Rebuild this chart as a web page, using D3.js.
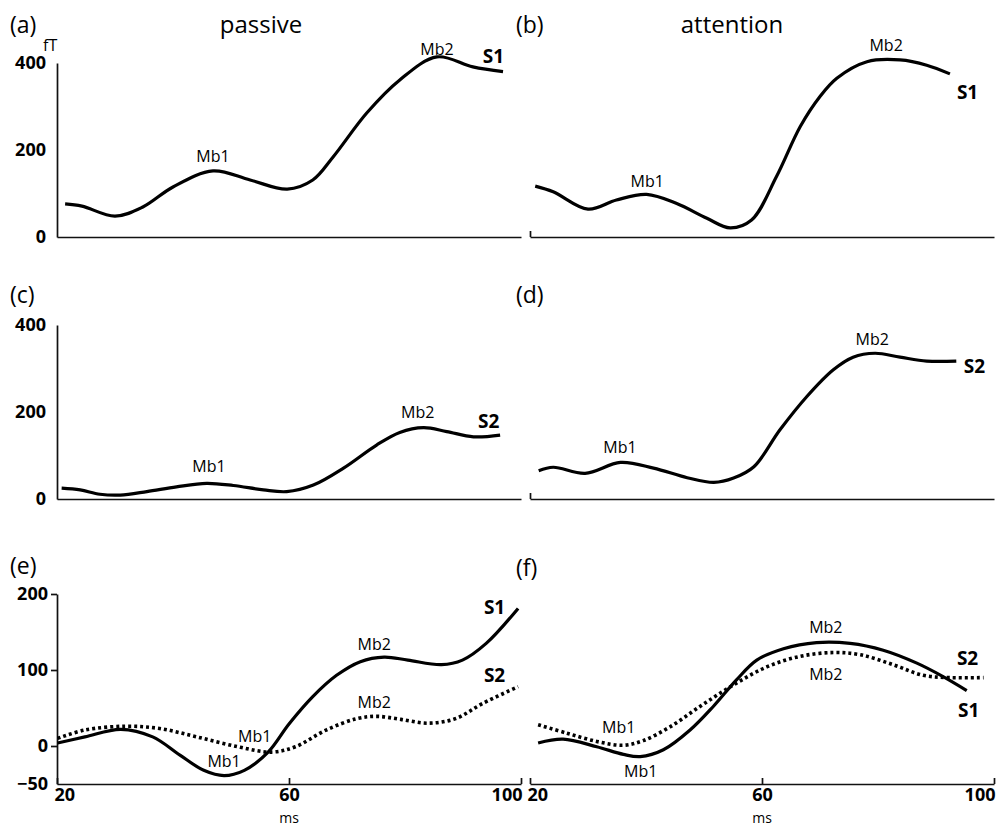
<!DOCTYPE html>
<html>
<head>
<meta charset="utf-8">
<script src="https://cdn.jsdelivr.net/npm/d3@7"></script>
<style>
  body { margin: 0; background: #fff; }
  text { font-family: "Open Sans", "Noto Sans", sans-serif; fill: #000; }
</style>
</head>
<body>
<script>
// (a) passive, S1
var msA  = [21.4, 24.3, 30.0, 34.8, 40.0, 46.9, 53.3, 59.7, 64.1, 67.6, 73.4, 79.1, 85.5, 91.7, 96.9];
var aS1  = [76, 71, 48, 69, 115, 152, 131, 110, 131, 184, 285, 361, 414, 391, 380];

// (b) attention, S1
var msB  = [20.9, 24.0, 30.0, 34.9, 40.1, 45.3, 50.5, 54.5, 58.2, 62.5, 66.6, 70.0, 72.9, 78.1, 83.8, 88.4, 92.4];
var bS1  = [117, 104, 64, 85, 98, 77, 43, 21, 39, 139, 254, 323, 365, 403, 407, 395, 375];

// (c) passive, S2
var msC  = [20.8, 24.0, 27.4, 30.9, 35.5, 40.6, 45.8, 50.4, 55.6, 59.6, 64.2, 69.4, 75.1, 79.1, 83.2, 87.2, 91.8, 96.4];
var cS2  = [25, 21, 11, 9, 17, 28, 36, 31, 21, 17, 32, 71, 124, 153, 164, 155, 143, 147];

// (d) attention, S2
var msD  = [21.5, 24.0, 29.5, 35.6, 41.3, 47.1, 51.7, 55.1, 58.6, 63.1, 67.7, 72.3, 75.7, 79.5, 83.8, 88.4, 93.5];
var dS2  = [65, 73, 59, 84, 71, 49, 38, 48, 74, 159, 235, 297, 326, 335, 326, 317, 317];

// (e) S1 solid, S2 dotted
var msE1 = [20.1, 24.8, 31.0, 36.5, 41.2, 45.3, 48.8, 52.3, 56.4, 60.0, 64.1, 68.2, 72.3, 76.4, 80.5, 86.3, 89.9, 94.0, 99.5];
var eS1  = [4, 12, 22, 12, -12, -32, -39, -32, -8, 29, 65, 93, 111, 117, 113, 107, 113, 135, 181];
var msE2 = [20.1, 24.8, 31.8, 37.7, 44.1, 51.2, 57.0, 61.1, 66.4, 71.7, 75.2, 79.3, 84.0, 88.7, 93.4, 99.5];
var eS2  = [10, 21, 26, 23, 12, -1, -8, -1, 21, 36, 39, 35, 30, 36, 56, 78];

// (f) S1 solid, S2 dotted
var msF1 = [21.4, 25.7, 31.5, 36.1, 39.0, 43.0, 47.6, 51.6, 55.6, 59.1, 63.7, 69.4, 75.2, 80.9, 86.7, 91.3, 95.3];
var fS1  = [4, 9, -1, -11, -14, -5, 21, 52, 87, 113, 128, 136, 135, 126, 109, 91, 73];
var msF2 = [21.4, 26.3, 31.5, 36.1, 39.5, 44.1, 49.3, 55.0, 60.8, 66.6, 72.3, 77.0, 82.6, 87.8, 92.4, 98.2];
var fS2  = [28, 17, 6, 1, 7, 25, 52, 80, 104, 118, 123, 120, 107, 93, 90, 90];

// tick labels
var yTicksTop = [0, 200, 400];
var yTicksBottom = [-50, 0, 100, 200];
var xTicks = [20, 60, 100];

// peak / series annotations: [text, ms, value, bold]
var notesA = [["Mb1", 46.9, 172, 0], ["Mb2", 85.5, 418, 0], ["S1", 93.4, 399, 1]];
var notesB = [["Mb1", 40.2, 115, 0], ["Mb2", 81.4, 428, 0], ["S1", 93.6, 317, 1]];
var notesC = [["Mb1", 46.2, 62, 0], ["Mb2", 82.2, 186, 0], ["S2", 92.6, 163, 1]];
var notesD = [["Mb1", 35.5, 106, 0], ["Mb2", 79.0, 354, 0], ["S2", 94.8, 290, 1]];
var notesE = [["S1", 93.6, 174, 1], ["Mb2", 74.7, 126, 0], ["S2", 93.6, 84, 1],
              ["Mb2", 74.7, 50, 0], ["Mb1", 54.1, 5, 0], ["Mb1", 48.8, -28, 0]];
var notesF = [["Mb2", 71.0, 149, 0], ["Mb2", 71.0, 87, 0], ["S2", 93.6, 107, 1],
              ["S1", 93.8, 38, 1], ["Mb1", 35.3, 17, 0], ["Mb1", 39.1, -41, 0]];

var svg = d3.select("body").append("svg")
            .attr("width", 996)
            .attr("height", 827);

var xL = d3.scaleLinear().domain([20, 100]).range([57, 521]);
var xR = d3.scaleLinear().domain([20, 100]).range([530, 994]);
var y1 = d3.scaleLinear().domain([0, 400]).range([237, 63]);
var y2 = d3.scaleLinear().domain([0, 400]).range([499, 325]);
var y3 = d3.scaleLinear().domain([-50, 200]).range([784, 594]);

var panels = [
  { tag: "(a)", x: xL, y: y1, lines: [[msA, aS1, 0]], notes: notesA, yTicks: yTicksTop, xt: "none", lx: 10, ly: 33 },
  { tag: "(b)", x: xR, y: y1, lines: [[msB, bS1, 0]], notes: notesB, yTicks: null, xt: "start", lx: 516, ly: 33 },
  { tag: "(c)", x: xL, y: y2, lines: [[msC, cS2, 0]], notes: notesC, yTicks: yTicksTop, xt: "none", lx: 10, ly: 303 },
  { tag: "(d)", x: xR, y: y2, lines: [[msD, dS2, 0]], notes: notesD, yTicks: null, xt: "start", lx: 516, ly: 303 },
  { tag: "(e)", x: xL, y: y3, lines: [[msE2, eS2, 1], [msE1, eS1, 0]], notes: notesE, yTicks: yTicksBottom, xt: "full", lx: 10, ly: 574 },
  { tag: "(f)", x: xR, y: y3, lines: [[msF2, fS2, 1], [msF1, fS1, 0]], notes: notesF, yTicks: null, xt: "full", lx: 516, ly: 576 }
];

panels.forEach(function(p) {
  var g = svg.append("g");
  var base = p.y.range()[0];

  // x axis
  var xAxis = d3.axisBottom(p.x).tickSizeOuter(0).tickSizeInner(-6).tickPadding(4);
  if (p.xt == "none") xAxis.tickValues([]);
  else if (p.xt == "start") xAxis.tickValues([20]).tickFormat("");
  else xAxis.tickValues(xTicks).tickFormat(d3.format("d"));

  var gx = g.append("g")
            .attr("transform", "translate(0," + base + ")")
            .call(xAxis);
  gx.selectAll("text")
    .attr("text-anchor", function(d) { return d == 20 ? "start" : d == 100 ? "end" : "middle"; })
    .attr("dx", function(d) { return d == 20 ? -3 : d == 100 ? 1 : 0; });

  if (p.xt == "full") {
    g.append("text")
     .attr("x", p.x(60))
     .attr("y", 823)
     .attr("text-anchor", "middle")
     .style("font-size", "14px")
     .text("ms");
  }

  // y axis
  if (p.yTicks) {
    var small = p.yTicks[0] < 0;
    var yAxis = d3.axisLeft(p.y)
                  .tickValues(p.yTicks)
                  .tickSizeOuter(0)
                  .tickSizeInner(small ? 6 : 0)
                  .tickPadding(small ? 3 : 11);
    var gy = g.append("g")
              .attr("transform", "translate(" + p.x.range()[0] + ",0)")
              .call(yAxis);
    gy.selectAll(".tick line")
      .filter(function(d) { return d < 0; })
      .remove();
  }

  // curves
  p.lines.forEach(function(s) {
    var pts = d3.zip(s[0], s[1]);
    g.append("path")
     .datum(pts)
     .attr("fill", "none")
     .attr("stroke", "#000")
     .attr("stroke-width", s[2] ? 3.6 : 3.2)
     .attr("stroke-dasharray", s[2] ? "3,3" : null)
     .attr("d", d3.line()
                  .x(function(d) { return p.x(d[0]); })
                  .y(function(d) { return p.y(d[1]); })
                  .curve(d3.curveCatmullRom.alpha(0.5)));
  });

  // annotations
  g.selectAll(".note")
   .data(p.notes)
   .enter()
   .append("text")
   .attr("class", "note")
   .attr("x", function(d) { return p.x(d[1]); })
   .attr("y", function(d) { return p.y(d[2]); })
   .attr("text-anchor", function(d) { return d[3] ? "start" : "middle"; })
   .style("font-size", function(d) { return d[3] ? "19px" : "16px"; })
   .style("font-weight", function(d) { return d[3] ? "bold" : "normal"; })
   .text(function(d) { return d[0]; });

  // panel tag
  g.append("text")
   .attr("x", p.lx)
   .attr("y", p.ly)
   .style("font-size", "23px")
   .text(p.tag);
});

// axis styling
svg.selectAll(".domain, .tick line")
   .attr("stroke", "#111")
   .attr("stroke-width", 1.7);
svg.selectAll(".tick text")
   .style("font-size", "18px")
   .style("font-weight", "bold")
   .style("font-family", "'Open Sans', sans-serif");

// column titles and unit
svg.append("text").attr("x", 261).attr("y", 33).attr("text-anchor", "middle")
   .style("font-size", "24px").text("passive");
svg.append("text").attr("x", 732).attr("y", 33).attr("text-anchor", "middle")
   .style("font-size", "24px").text("attention");
svg.append("text").attr("x", 43).attr("y", 51)
   .style("font-size", "16px").text("fT");
</script>
</body>
</html>
